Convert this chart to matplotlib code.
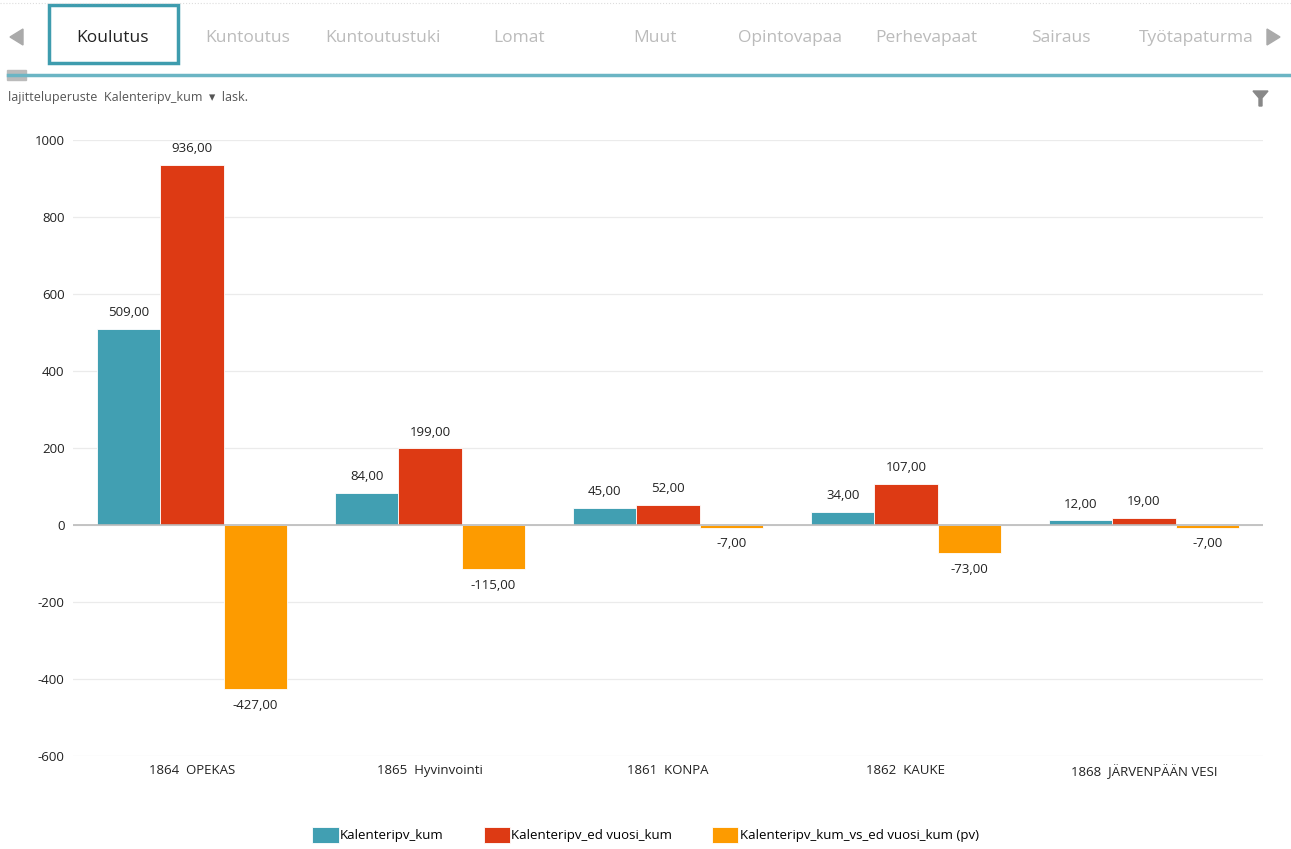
import matplotlib
matplotlib.use("Agg")
import matplotlib.pyplot as plt
import numpy as np
from matplotlib.patches import Rectangle, Polygon
from matplotlib.lines import Line2D

plt.rcParams['font.family'] = ['Open Sans', 'DejaVu Sans']

categories = ["1864  OPEKAS", "1865  Hyvinvointi", "1861  KONPA", "1862  KAUKE", "1868  JÄRVENPÄÄN VESI"]
series_names = ["Kalenteripv_kum", "Kalenteripv_ed vuosi_kum", "Kalenteripv_kum_vs_ed vuosi_kum (pv)"]
kum = [509, 84, 45, 34, 12]
ed_vuosi = [936, 199, 52, 107, 19]
diff = [-427, -115, -7, -73, -7]
colors = ["#419FB2", "#DD3A14", "#FD9B00"]
tabs = ["Koulutus", "Kuntoutus", "Kuntoutustuki", "Lomat", "Muut", "Opintovapaa", "Perhevapaat", "Sairaus", "Työtapaturma"]
yticks = [-600, -400, -200, 0, 200, 400, 600, 800, 1000]

W, H = 1291, 849
fig = plt.figure(figsize=(W / 100, H / 100), dpi=100)

ax = fig.add_axes([73 / W, 1 - 756 / H, (1263 - 73) / W, (756 - 140) / H])
x = np.arange(len(categories))
bw = 0.266
series = [kum, ed_vuosi, diff]
for i, (vals, c) in enumerate(zip(series, colors)):
    pos = x + (i - 1) * bw
    ax.bar(pos, vals, width=bw, color=c, edgecolor="white", linewidth=0.6, zorder=3, label=series_names[i])
    for p, v in zip(pos, vals):
        lab = f"{v:.2f}".replace(".", ",")
        if v >= 0:
            ax.annotate(lab, (p, v), xytext=(0, 7), textcoords="offset points", ha="center", va="bottom", fontsize=9.5, color="#222222")
        else:
            ax.annotate(lab, (p, v), xytext=(0, -7), textcoords="offset points", ha="center", va="top", fontsize=9.5, color="#222222")

ax.set_xlim(-0.5, len(categories) - 0.5)
ax.set_ylim(-600, 1000)
ax.set_yticks(yticks)
ax.set_yticklabels([str(t) for t in yticks], fontsize=9.5, color="#222222")
ax.set_xticks(x)
ax.set_xticklabels(categories, fontsize=9.5, color="#222222")
ax.tick_params(length=0)
ax.tick_params(axis="y", pad=6)
ax.tick_params(axis="x", pad=6)
for s in ax.spines.values():
    s.set_visible(False)
ax.grid(axis="y", color="#EBEBEB", linewidth=0.9, zorder=0)
ax.axhline(0, color="#BBBBBB", linewidth=1.2, zorder=4)

leg = fig.legend(loc="center", bbox_to_anchor=(0.5, 1 - 835 / H), ncol=3, frameon=False, fontsize=9.5,
                 handlelength=2.0, handleheight=1.6, handletextpad=0.1, columnspacing=3.0)

# Header / tabs
tab_x = [113, 248, 383, 519, 655, 790, 926, 1061, 1196]
for t, tx in zip(tabs, tab_x):
    fig.text(tx / W, 1 - 38 / H, t, ha="center", va="center", fontsize=12.5,
             color="#222222" if t == "Koulutus" else "#BBBBBB")
fig.add_artist(Rectangle((49 / W, 1 - 63 / H), 129 / W, 58 / H, transform=fig.transFigure,
                         fill=False, edgecolor="#3E9CAE", linewidth=2.5))
fig.add_artist(Line2D([0, 1], [1 - 3 / H, 1 - 3 / H], transform=fig.transFigure, color="#DDDDDD", linewidth=0.8, linestyle=":"))
fig.add_artist(Line2D([8 / W, 1], [1 - 75 / H, 1 - 75 / H], transform=fig.transFigure, color="#6BB5C4", linewidth=2.5))
fig.add_artist(Rectangle((7 / W, 1 - 80 / H), 19 / W, 10 / H, transform=fig.transFigure, color="#BBBBBB"))
fig.add_artist(Polygon([[10 / W, 1 - 37 / H], [23 / W, 1 - 29 / H], [23 / W, 1 - 45 / H]], closed=True,
                       transform=fig.transFigure, color="#AAAAAA"))
fig.add_artist(Polygon([[1267 / W, 1 - 29 / H], [1280 / W, 1 - 37 / H], [1267 / W, 1 - 45 / H]], closed=True,
                       transform=fig.transFigure, color="#AAAAAA"))
fig.text(8 / W, 1 - 98 / H, "lajitteluperuste  Kalenteripv_kum  \u25be  lask.", ha="left", va="center", fontsize=9, color="#555555")
fig.add_artist(Polygon([[1253 / W, 1 - 91 / H], [1268 / W, 1 - 91 / H], [1262 / W, 1 - 98 / H], [1262 / W, 1 - 106 / H],
                        [1259 / W, 1 - 106 / H], [1259 / W, 1 - 98 / H]], closed=True, transform=fig.transFigure, color="#888888"))

fig.savefig("out.png", dpi=100)
